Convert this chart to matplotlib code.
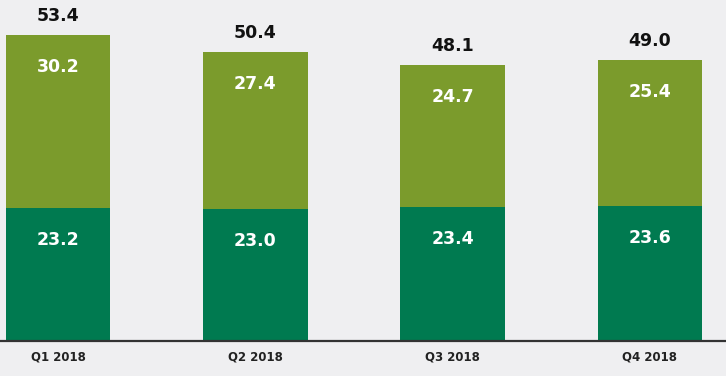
import matplotlib.pyplot as plt
import numpy as np

categories = ["Q1 2018", "Q2 2018", "Q3 2018", "Q4 2018"]
bottom_vals = [23.2, 23.0, 23.4, 23.6]
top_vals = [30.2, 27.4, 24.7, 25.4]
totals = [53.4, 50.4, 48.1, 49.0]

bg = "#EFEFF1"
dark = "#007A50"
olive = "#7B9B2C"

fig = plt.figure(figsize=(7.26, 3.76), dpi=100, facecolor=bg)
ax = fig.add_axes([0, 0.093, 1, 0.907], facecolor=bg)
x = np.arange(len(categories))
w = 0.53
ax.bar(x, bottom_vals, width=w, color=dark, zorder=2)
ax.bar(x, top_vals, width=w, bottom=bottom_vals, color=olive, zorder=2)

for i in range(len(categories)):
    ax.annotate(f"{bottom_vals[i]:.1f}", (x[i], bottom_vals[i]), xytext=(0, -23),
                textcoords="offset points", ha="center", va="center",
                color="white", fontsize=12.5, fontweight="bold")
    ax.annotate(f"{top_vals[i]:.1f}", (x[i], bottom_vals[i] + top_vals[i]), xytext=(0, -23),
                textcoords="offset points", ha="center", va="center",
                color="white", fontsize=12.5, fontweight="bold")
    ax.annotate(f"{totals[i]:.1f}", (x[i], bottom_vals[i] + top_vals[i]), xytext=(0, 14),
                textcoords="offset points", ha="center", va="center",
                color="#111111", fontsize=12.5, fontweight="bold")

ax.set_xlim(-0.294, 3.386)
ax.set_ylim(0, 59.5)
for s in ["top", "right", "left"]:
    ax.spines[s].set_visible(False)
ax.spines["bottom"].set_color("#333333")
ax.spines["bottom"].set_linewidth(1.6)
ax.spines["bottom"].set_zorder(3)
ax.set_yticks([])
ax.set_xticks(x)
ax.set_xticklabels(categories, fontsize=8.5, fontweight="bold", color="#222222")
ax.tick_params(axis="x", length=0, pad=7)

fig.savefig("out.png", dpi=100, facecolor=bg)
